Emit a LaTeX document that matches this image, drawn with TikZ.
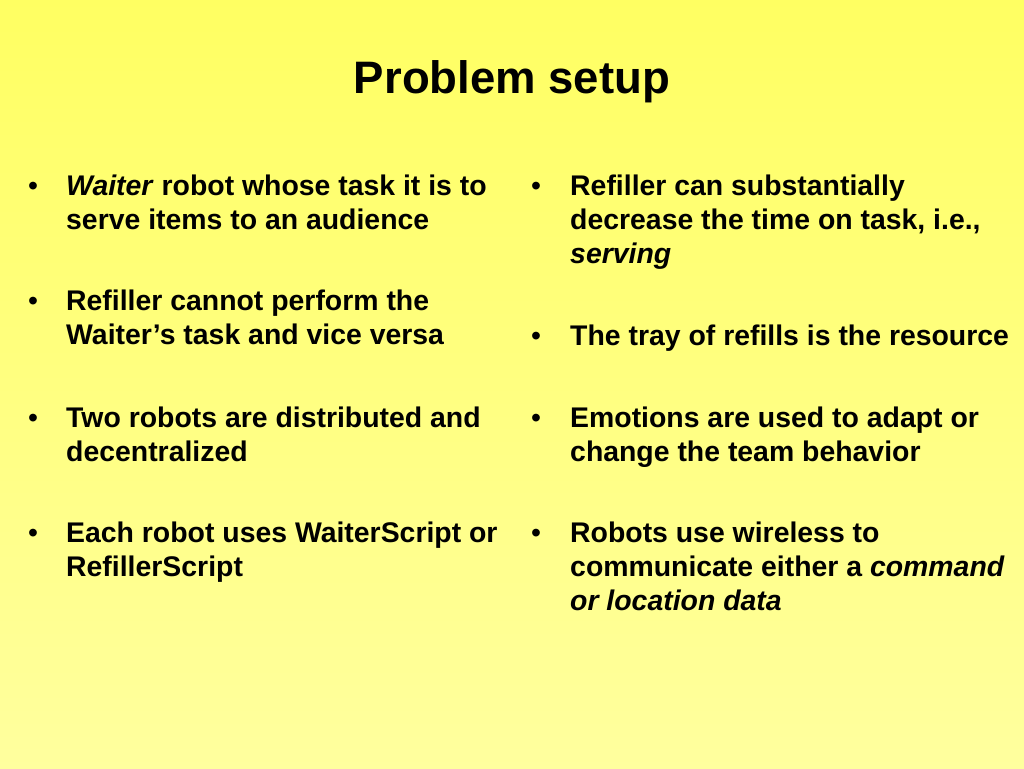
\documentclass[tikz,border=0pt]{standalone}
\usepackage{fontspec}
\setmainfont{Liberation Sans}
\usetikzlibrary{positioning}
\definecolor{slidetop}{RGB}{255,255,98}
\definecolor{slidebot}{RGB}{255,255,158}
\newcommand{\itemlines}[1]{\parbox[t]{460pt}{\raggedright #1}}
\tikzset{
	title/.style={anchor=base, inner sep=0pt, font=\fontsize{45.5}{54}\selectfont\bfseries},
	dot/.style={anchor=base, inner sep=0pt, font=\fontsize{28.4}{34}\selectfont},
	item/.style={anchor=base west, inner sep=0pt, font=\fontsize{28.4}{34.1}\selectfont\bfseries}
}
\begin{document}
\begin{tikzpicture}[x=1pt,y=-1pt]
	% background
	\shade[top color=slidetop, bottom color=slidebot] (0,0) rectangle (1024,768);
	\useasboundingbox (0,0) rectangle (1024,768);
	
	% title
	\node[title] (title) at (512,93) {Problem setup};
	
	% left column
	\node[dot] (bl1) at (33,195) {•};
	\node[item] (l1) at (66,195) {\itemlines{\textit{Waiter} robot whose task it is to\\serve items to an audience}};
	\node[dot] (bl2) at (33,310) {•};
	\node[item] (l2) at (66,310) {\itemlines{Refiller cannot perform the\\Waiter’s task and vice versa}};
	\node[dot] (bl3) at (33,427) {•};
	\node[item] (l3) at (66,427) {\itemlines{Two robots are distributed and\\decentralized}};
	\node[dot] (bl4) at (33,542) {•};
	\node[item] (l4) at (66,542) {\itemlines{Each robot uses WaiterScript or\\RefillerScript}};
	
	% right column
	\node[dot] (br1) at (536,195) {•};
	\node[item] (r1) at (570,195) {\itemlines{Refiller can substantially\\decrease the time on task, i.e.,\\\textit{serving}}};
	\node[dot] (br2) at (536,345) {•};
	\node[item] (r2) at (570,345) {\itemlines{The tray of refills is the resource}};
	\node[dot] (br3) at (536,427) {•};
	\node[item] (r3) at (570,427) {\itemlines{Emotions are used to adapt or\\change the team behavior}};
	\node[dot] (br4) at (536,542) {•};
	\node[item] (r4) at (570,542) {\itemlines{Robots use wireless to\\communicate either a \textit{command}\\\textit{or location data}}};
\end{tikzpicture}
\end{document}
